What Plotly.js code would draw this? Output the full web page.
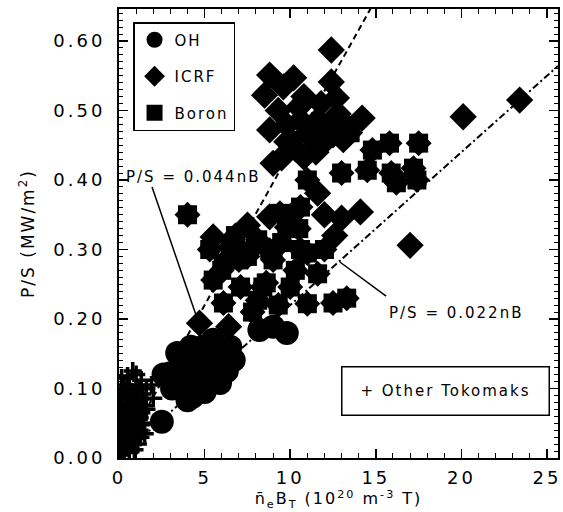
<!DOCTYPE html>
<html><head><meta charset="utf-8">
<script src="https://cdn.plot.ly/plotly-3.0.1.min.js"></script>
<style>
html,body{margin:0;padding:0;background:#fff;}
#chart{width:563px;height:512px;}
text{letter-spacing:2px;}
.xtick text,.ytick text{letter-spacing:3px;}
</style></head><body><div id="chart"></div>
<script>
// OH discharges
const ohX=[3.4,4.1,3.0,3.7,4.3,5.1,5.9,6.1,6.7,6.5,5.5,5.3,4.7,2.6,4.0,4.9,2.5,9.0,9.8,8.2,5.6,4.5,3.5,3.1,5.8,6.3,4.2,5.0];
const ohY=[0.151,0.137,0.122,0.098,0.088,0.112,0.108,0.127,0.141,0.160,0.170,0.151,0.131,0.120,0.083,0.160,0.052,0.189,0.180,0.184,0.130,0.110,0.120,0.100,0.150,0.125,0.160,0.095];
// ICRF heated
const icrfX=[12.4,8.8,10.2,8.5,9.6,12.4,10.9,12.7,10.8,11.6,9.8,10.6,12.1,11.2,13.1,14.2,13.1,12.5,9.5,10.8,10.0,8.8,11.0,11.6,14.1,12.6,20.1,23.4,17.0,7.5,5.5,4.7,6.4,9.0,8.8,10.2,9.3,10.5,11.8,12.0,10.3,11.5,9.8,12.8,12.0,13.0,6.3,7.7];
const icrfY=[0.587,0.551,0.547,0.522,0.534,0.541,0.515,0.518,0.520,0.486,0.479,0.486,0.476,0.462,0.458,0.489,0.482,0.465,0.432,0.433,0.458,0.472,0.468,0.381,0.354,0.320,0.491,0.515,0.306,0.335,0.318,0.194,0.189,0.424,0.347,0.352,0.500,0.505,0.510,0.455,0.445,0.440,0.455,0.495,0.350,0.345,0.285,0.300];
// Boronized
const boronX=[4.0,9.4,10.6,13.0,11.0,9.0,10.6,9.8,5.3,6.5,8.1,5.5,7.1,8.6,10.0,11.6,13.3,6.1,8.1,11.0,12.5,15.8,17.5,14.8,14.5,15.9,17.2,16.2,17.4,13.5,7.0,11.0,8.8,8.4,6.0,7.5,9.5,10.3,12.0,7.8,9.3,6.8,10.5];
const boronY=[0.350,0.352,0.361,0.410,0.400,0.285,0.300,0.332,0.300,0.304,0.314,0.256,0.246,0.252,0.246,0.265,0.230,0.223,0.227,0.222,0.223,0.453,0.453,0.443,0.414,0.410,0.417,0.396,0.400,0.468,0.285,0.295,0.299,0.246,0.270,0.290,0.310,0.270,0.300,0.210,0.220,0.320,0.330];
// Other tokamaks
const otherX=[0.5,1.0,1.3,1.9,2.0,0.3,0.8,1.6,0.1,0.3,0.6,0.9,1.1,0.2,0.5,0.8,1.2,1.4,0.1,0.4,0.7,1.0,1.3,1.6,0.2,0.5,0.8,1.1,1.4,0.1,0.4,0.7,1.0,0.25,0.6,0.15,0.35,0.9,0.6,0.3,1.5,0.05,0.45,0.75,1.25,0.95,1.2,0.2,0.55,0.85,1.15,1.45,0.35,0.65,1.05,0.15,0.5,0.8,1.3,0.1,0.4,0.25,0.7,1.0,0.45,0.9,1.2,0.3,0.65,0.1,0.55,1.35];
const otherY=[0.118,0.120,0.112,0.105,0.086,0.105,0.125,0.100,0.005,0.010,0.008,0.012,0.020,0.025,0.030,0.035,0.040,0.050,0.045,0.050,0.055,0.060,0.065,0.070,0.065,0.070,0.078,0.082,0.085,0.085,0.090,0.095,0.100,0.100,0.105,0.115,0.075,0.050,0.045,0.040,0.035,0.020,0.020,0.020,0.030,0.070,0.100,0.012,0.058,0.062,0.055,0.075,0.062,0.088,0.090,0.032,0.088,0.025,0.048,0.070,0.015,0.055,0.068,0.040,0.080,0.028,0.058,0.022,0.032,0.058,0.097,0.092];
// scaling fits P/S = k * nB
const fitSlopes=[0.044,0.022];
const fitLabels=['P/S = 0.044nB','P/S = 0.022nB'];
const xTickVals=[0,5,10,15,20,25];
const yTickVals=[0,0.1,0.2,0.3,0.4,0.5,0.6];

const xMax=25.64, yMax=0.646;
const F='DejaVu Sans, Arial, sans-serif';
const fitX=[0,xMax];
const traces=[
 {x:fitX,y:fitX.map(v=>v*fitSlopes[0]),mode:'lines',line:{color:'#000',width:2,dash:'6px,4px'},showlegend:false,hoverinfo:'skip'},
 {x:fitX,y:fitX.map(v=>v*fitSlopes[1]),mode:'lines',line:{color:'#000',width:2,dash:'7px,3px,2px,3px'},showlegend:false,hoverinfo:'skip'},
 {x:otherX,y:otherY,mode:'markers',name:'Other Tokomaks',showlegend:false,marker:{symbol:'cross-thin',size:13,color:'#000',line:{color:'#000',width:3.5}}},
 {x:ohX,y:ohY,mode:'markers',name:'OH',legendgroup:'oh',marker:{symbol:'circle',size:24,color:'#000',line:{width:0}}},
 {x:icrfX,y:icrfY,mode:'markers',name:'ICRF',legendgroup:'icrf',marker:{symbol:'diamond',size:21,color:'#000',line:{width:0}}},
 {x:boronX,y:boronY,mode:'markers',name:'Boron',legendgroup:'boron',marker:{symbol:'square',size:19,color:'#000',line:{width:0}}},
 {x:boronX,y:boronY,mode:'markers',name:'Boron',legendgroup:'boron',showlegend:false,marker:{symbol:'diamond',size:20,color:'#000',line:{width:0}}}
];
const axBase={showline:true,linewidth:2,linecolor:'#000',mirror:'ticks',ticks:'inside',ticklen:9,tickwidth:1.5,tickcolor:'#000',showgrid:false,zeroline:false,tickfont:{family:F,size:18,color:'#000'}};
const layout={
 width:563,height:512,margin:{l:119,r:5,t:9,b:54},
 paper_bgcolor:'#fff',plot_bgcolor:'#fff',
 font:{family:F,color:'#000'},
 xaxis:Object.assign({},axBase,{range:[0,xMax],tickvals:xTickVals,ticktext:xTickVals.map(String),ticklabelstandoff:2,
   minor:{dtick:1,tick0:0,ticks:'inside',ticklen:5,tickwidth:1,tickcolor:'#000'},
   title:{text:'n\u0304<sub>e</sub>B<sub>T</sub> (10<sup>20</sup> m<sup>-3</sup> T)',font:{family:F,size:16,color:'#000'},standoff:4}}),
 yaxis:Object.assign({},axBase,{range:[0,yMax],tickvals:yTickVals,ticktext:yTickVals.map(v=>v.toFixed(2)),ticklabelstandoff:8,
   minor:{dtick:0.01,tick0:0,ticks:'inside',ticklen:4,tickwidth:1,tickcolor:'#000'},
   title:{text:'P/S (MW/m<sup>2</sup>)',font:{family:F,size:17,color:'#000'},standoff:14}}),
 legend:{x:0.032,y:0.971,xanchor:'left',yanchor:'top',bordercolor:'#000',borderwidth:1.5,bgcolor:'#fff',
   font:{family:F,size:15,color:'#000'},traceorder:'grouped',tracegroupgap:14},
 shapes:[
  {type:'line',xref:'x',yref:'y',x0:1.93,y0:0.39,x1:4.56,y1:0.201,line:{color:'#000',width:1.5}},
  {type:'line',xref:'x',yref:'y',x0:12.9,y0:0.282,x1:15.6,y1:0.233,line:{color:'#000',width:1.5}}
 ],
 annotations:[
  {xref:'x',yref:'y',x:4.3,y:0.404,text:fitLabels[0],showarrow:false,font:{family:F,size:15,color:'#000'},xanchor:'center',yanchor:'middle'},
  {xref:'x',yref:'y',x:19.7,y:0.209,text:fitLabels[1],showarrow:false,font:{family:F,size:15,color:'#000'},xanchor:'center',yanchor:'middle'},
  {xref:'paper',yref:'paper',x:(445-119)/439,y:(458-390.5)/449,text:'+ Other Tokomaks',showarrow:false,font:{family:F,size:15,color:'#000'},
   xanchor:'center',yanchor:'middle',width:200,height:41,borderpad:3,bordercolor:'#000',borderwidth:1.5,bgcolor:'#fff'}
 ]
};
Plotly.newPlot('chart',traces,layout,{displayModeBar:false,staticPlot:true});
</script></body></html>
